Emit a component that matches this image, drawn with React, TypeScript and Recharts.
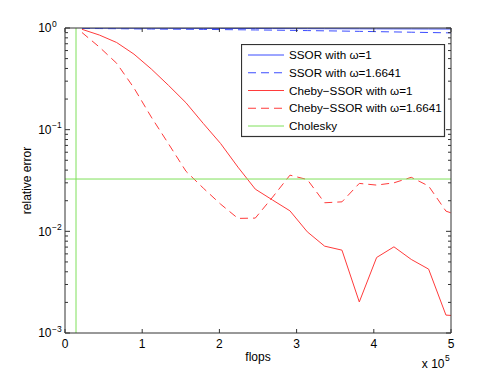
import React from "react";
import {
  LineChart,
  Line,
  XAxis,
  YAxis,
  ReferenceLine,
  Legend,
} from "recharts";

// flops after each iteration
const flops = [
  22000, 44450, 66900, 89350, 111800, 134250, 156700, 179150, 201600, 224050,
  246500, 268950, 291400, 313850, 336300, 358750, 381200, 403650, 426100,
  448550, 471000, 493450, 515900,
];

const ssorW1 = [
  0.998, 0.997, 0.996, 0.995, 0.994, 0.993, 0.992, 0.991, 0.99, 0.989, 0.988,
  0.987, 0.986, 0.985, 0.984, 0.983, 0.982, 0.981, 0.98, 0.979, 0.978, 0.977,
  0.976,
];
const ssorWopt = [
  0.99, 0.987, 0.984, 0.98, 0.977, 0.974, 0.972, 0.969, 0.965, 0.961, 0.957,
  0.953, 0.948, 0.943, 0.938, 0.933, 0.927, 0.921, 0.915, 0.909, 0.903, 0.897,
  0.891,
];
const chebyW1 = [
  0.971, 0.853, 0.72, 0.553, 0.395, 0.272, 0.184, 0.115, 0.073, 0.0428, 0.026,
  0.0203, 0.0159, 0.00989, 0.00715, 0.00653, 0.00202, 0.00553, 0.00704,
  0.00529, 0.00425, 0.0015, 0.00146,
];
const chebyWopt = [
  0.903, 0.65, 0.45, 0.257, 0.133, 0.0722, 0.039, 0.0266, 0.0185, 0.0134,
  0.0135, 0.0217, 0.0357, 0.0323, 0.0191, 0.0195, 0.0296, 0.0285, 0.03, 0.034,
  0.0279, 0.0158, 0.0138,
];

const cholFlops = 14250;
const cholError = 0.0327;

const xTicks = [0, 100000, 200000, 300000, 400000, 500000];
const yTicks = [
  0.001, 0.002, 0.003, 0.004, 0.005, 0.006, 0.007, 0.008, 0.009,
  0.01, 0.02, 0.03, 0.04, 0.05, 0.06, 0.07, 0.08, 0.09,
  0.1, 0.2, 0.3, 0.4, 0.5, 0.6, 0.7, 0.8, 0.9, 1,
];

const legendLabels = [
  "SSOR with \u03c9=1",
  "SSOR with \u03c9=1.6641",
  "Cheby\u2212SSOR with \u03c9=1",
  "Cheby\u2212SSOR with \u03c9=1.6641",
  "Cholesky",
];

const BLUE = "#3b4cff";
const RED = "#ff3b3b";
const GREEN = "#7ee05a";
const AXIS = "#333";
const FONT = "'Liberation Sans', Arial, sans-serif";
const DASH = "8 5";

const legendStyles = [
  { color: BLUE, dash: undefined },
  { color: BLUE, dash: DASH },
  { color: RED, dash: undefined },
  { color: RED, dash: DASH },
  { color: GREEN, dash: undefined },
];

const data = flops.map((x, i) => ({
  x,
  ssor1: ssorW1[i],
  ssor2: ssorWopt[i],
  cheby1: chebyW1[i],
  cheby2: chebyWopt[i],
}));

const isDecade = (v: number) => {
  const l = Math.log10(v);
  return Math.abs(l - Math.round(l)) < 1e-6;
};

function BottomTick({ x, y, payload }: any) {
  return (
    <g>
      <line x1={x} x2={x} y1={y} y2={y - 4} stroke={AXIS} />
      <text x={x} y={y + 14.5} textAnchor="middle" fontSize={12} fill="#000">
        {payload.value / 1e5}
      </text>
    </g>
  );
}

function TopTick({ x, y }: any) {
  return <line x1={x} x2={x} y1={y} y2={y + 4} stroke={AXIS} />;
}

function LeftTick({ x, y, payload }: any) {
  const major = isDecade(payload.value);
  const exp = Math.round(Math.log10(payload.value));
  return (
    <g>
      <line x1={x} x2={x + (major ? 5 : 3)} y1={y} y2={y} stroke={AXIS} />
      {major && (
        <>
          <text x={x - 13.5} y={y + 4.3} textAnchor="end" fontSize={12} fill="#000">
            10
          </text>
          <text x={x - 13} y={y - 1.5} fontSize={8.5} fill="#000">
            {exp < 0 ? "\u2212" + Math.abs(exp) : String(exp)}
          </text>
        </>
      )}
    </g>
  );
}

function RightTick({ x, y, payload }: any) {
  const major = isDecade(payload.value);
  return <line x1={x} x2={x - (major ? 5 : 3)} y1={y} y2={y} stroke={AXIS} />;
}

function renderLegend() {
  return (
    <svg width={205} height={94}>
      <rect x={0.5} y={0.5} width={203} height={92} fill="#fff" stroke={AXIS} strokeWidth={1.2} />
      {legendLabels.map((label, i) => {
        const cy = 11 + i * 17.75;
        return (
          <g key={label}>
            <line
              x1={7}
              x2={43}
              y1={cy}
              y2={cy}
              stroke={legendStyles[i].color}
              strokeDasharray={legendStyles[i].dash}
            />
            <text x={48} y={cy + 4.2} fontSize={11.7} fill="#000" fontFamily={FONT}>
              {label}
            </text>
          </g>
        );
      })}
    </svg>
  );
}

function XLabels({ viewBox }: any) {
  const { x, y, width } = viewBox;
  return (
    <g fontFamily={FONT} fill="#000">
      <text x={x + width / 2} y={y + 28} textAnchor="middle" fontSize={12}>
        flops
      </text>
      <text x={x + width - 6.5} y={y + 35.3} textAnchor="end" fontSize={12}>
        x 10
      </text>
      <text x={x + width - 6} y={y + 28} fontSize={8.5}>
        5
      </text>
    </g>
  );
}

function YLabel({ viewBox }: any) {
  const { y, height } = viewBox;
  const cy = y + height / 2;
  return (
    <text
      x={31}
      y={cy}
      transform={`rotate(-90, 31, ${cy})`}
      textAnchor="middle"
      fontSize={12}
      fill="#000"
      fontFamily={FONT}
    >
      relative error
    </text>
  );
}

export default function App() {
  return (
    <div style={{ position: "absolute", left: 0, top: 0, background: "#fff", fontFamily: FONT }}>
      <LineChart width={498} height={375} data={data} margin={{ top: 0, right: 0, bottom: 0, left: 0 }}>
        <XAxis
          dataKey="x"
          type="number"
          domain={[0, 500000]}
          allowDataOverflow
          ticks={xTicks}
          interval={0}
          height={42}
          tickSize={0}
          tickMargin={0}
          tickLine={false}
          tick={<BottomTick />}
          axisLine={{ stroke: AXIS }}
          label={{ content: XLabels }}
        />
        <XAxis
          xAxisId="top"
          orientation="top"
          dataKey="x"
          type="number"
          domain={[0, 500000]}
          allowDataOverflow
          ticks={xTicks}
          interval={0}
          height={28}
          tickSize={0}
          tickMargin={0}
          tickLine={false}
          tick={<TopTick />}
          axisLine={{ stroke: AXIS }}
        />
        <YAxis
          scale="log"
          type="number"
          domain={[0.001, 1]}
          allowDataOverflow
          ticks={yTicks}
          interval={0}
          width={65}
          tickSize={0}
          tickMargin={0}
          tickLine={false}
          tick={<LeftTick />}
          axisLine={{ stroke: AXIS }}
          label={{ content: YLabel }}
        />
        <YAxis
          yAxisId="right"
          orientation="right"
          scale="log"
          type="number"
          domain={[0.001, 1]}
          allowDataOverflow
          ticks={yTicks}
          interval={0}
          width={47}
          tickSize={0}
          tickMargin={0}
          tickLine={false}
          tick={<RightTick />}
          axisLine={{ stroke: AXIS }}
        />
        <Legend
          layout="vertical"
          align="center"
          verticalAlign="middle"
          content={renderLegend}
          wrapperStyle={{ position: "absolute", left: 241, top: 44, width: 205, height: 94 }}
        />
        <Line type="linear" dataKey="ssor1" stroke={BLUE} strokeWidth={1} dot={false} isAnimationActive={false} />
        <Line type="linear" dataKey="ssor2" stroke={BLUE} strokeWidth={1} strokeDasharray={DASH} dot={false} isAnimationActive={false} />
        <Line type="linear" dataKey="cheby1" stroke={RED} strokeWidth={1} dot={false} isAnimationActive={false} />
        <Line type="linear" dataKey="cheby2" stroke={RED} strokeWidth={1} strokeDasharray={DASH} dot={false} isAnimationActive={false} />
        <ReferenceLine x={cholFlops} stroke={GREEN} strokeWidth={1} />
        <ReferenceLine y={cholError} stroke={GREEN} strokeWidth={1} />
      </LineChart>
    </div>
  );
}
